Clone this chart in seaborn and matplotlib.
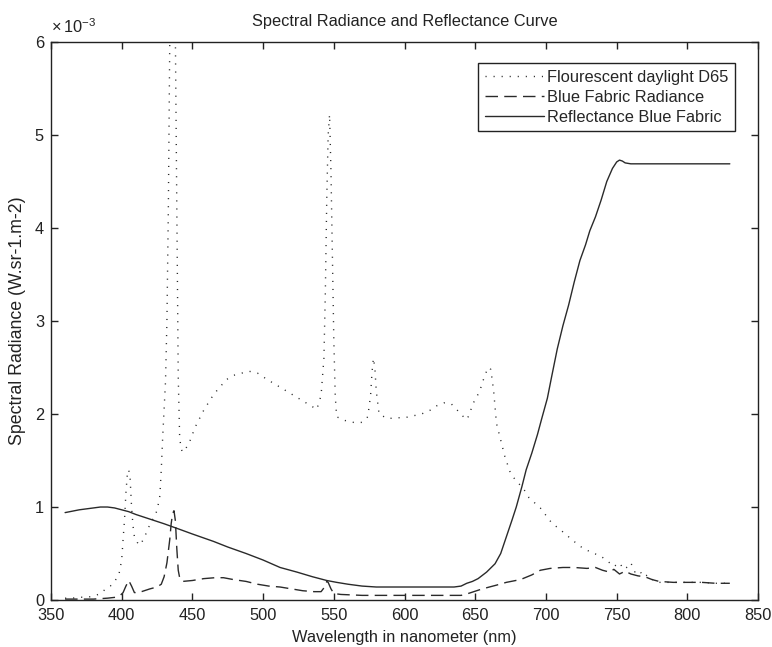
import numpy as np
import pandas as pd
import matplotlib
matplotlib.use("Agg")
import matplotlib.pyplot as plt
from matplotlib.ticker import FuncFormatter
import seaborn as sns

# Fluorescent daylight D65 (spectral radiance, x 1e-3)
d65_nm = [360, 365, 370, 375, 380, 385, 388, 392, 395, 398, 400, 401, 402, 403, 404, 405,
          406, 407, 408, 409, 411, 413, 416, 419, 422, 425, 427, 428, 429, 430, 431, 432,
          433, 434, 435, 436, 437, 438, 439, 440, 441, 442, 443, 445, 448, 452, 458, 465,
          474, 480, 490, 496, 503, 514, 526, 538, 541, 543, 544, 545, 546, 547, 548, 549,
          550, 551, 552, 558, 564, 570, 574, 576, 577, 578, 579, 580, 582, 588, 594, 600,
          612, 618, 623, 628, 633, 638, 641, 644, 646, 648, 653, 656, 659, 661, 663, 665,
          668, 671, 675, 679, 684, 688, 696, 704, 713, 719, 725, 731, 739, 745, 748, 752,
          755, 758, 760, 763, 766, 769, 772, 776, 780, 790, 800, 810, 820, 830]
d65_val = [0.02, 0.02, 0.03, 0.03, 0.04, 0.07, 0.11, 0.15, 0.20, 0.27, 0.43, 0.65, 0.86, 1.15, 1.35, 1.40,
           1.30, 1.00, 0.80, 0.68, 0.62, 0.59, 0.67, 0.78, 0.87, 0.96, 1.12, 1.40, 1.75, 2.05, 2.35, 3.00,
           4.20, 6.00, 6.70, 7.00, 6.70, 6.00, 4.20, 2.40, 1.75, 1.63, 1.59, 1.62, 1.70, 1.86, 2.04, 2.21,
           2.37, 2.42, 2.46, 2.44, 2.37, 2.27, 2.16, 2.05, 2.20, 2.60, 3.30, 4.30, 5.00, 5.22, 4.60, 3.70,
           2.80, 2.20, 1.97, 1.93, 1.91, 1.91, 1.97, 2.20, 2.45, 2.60, 2.50, 2.25, 2.00, 1.95, 1.96, 1.96,
           2.00, 2.04, 2.09, 2.12, 2.11, 2.03, 1.98, 1.94, 2.00, 2.10, 2.24, 2.38, 2.50, 2.48, 2.25, 1.90,
           1.72, 1.54, 1.36, 1.28, 1.20, 1.10, 0.99, 0.83, 0.72, 0.64, 0.57, 0.52, 0.47, 0.40, 0.36, 0.40,
           0.33, 0.36, 0.40, 0.30, 0.32, 0.25, 0.27, 0.21, 0.19, 0.19, 0.19, 0.19, 0.18, 0.18]

# Blue fabric radiance (x 1e-3)
fab_nm = [360, 370, 380, 390, 396, 399, 401, 403, 405, 407, 409, 412, 416, 420, 425, 428,
          430, 432, 434, 435, 436, 437, 438, 439, 440, 441, 443, 450, 458, 466, 472, 479,
          488, 496, 504, 512, 520, 528, 536, 541, 543, 545, 546, 548, 550, 555, 570, 580,
          600, 620, 640, 645, 649, 654, 660, 665, 672, 682, 690, 696, 703, 712, 720, 729,
          735, 740, 745, 748, 752, 756, 760, 765, 770, 775, 780, 790, 800, 810, 820, 830]
fab_val = [0.01, 0.01, 0.01, 0.02, 0.03, 0.05, 0.08, 0.15, 0.21, 0.15, 0.08, 0.08, 0.10, 0.12, 0.14, 0.17,
           0.25, 0.40, 0.65, 0.82, 0.93, 0.96, 0.85, 0.55, 0.32, 0.24, 0.20, 0.21, 0.23, 0.24, 0.24, 0.22,
           0.20, 0.17, 0.15, 0.14, 0.12, 0.10, 0.09, 0.09, 0.13, 0.20, 0.19, 0.12, 0.07, 0.06, 0.05, 0.05,
           0.05, 0.05, 0.05, 0.07, 0.09, 0.115, 0.14, 0.16, 0.19, 0.22, 0.27, 0.32, 0.34, 0.35, 0.35, 0.34,
           0.35, 0.32, 0.30, 0.33, 0.28, 0.31, 0.28, 0.26, 0.25, 0.22, 0.20, 0.19, 0.19, 0.19, 0.18, 0.18]

# Reflectance of the blue fabric (same axis, x 1e-3)
refl_nm = [360, 370, 380, 385, 390, 395, 400, 405, 410, 420, 430, 441, 450, 465, 475, 488,
           500, 512, 524, 535, 545, 552, 560, 570, 580, 600, 620, 635, 640, 644, 648, 652,
           658, 664, 668, 672, 676, 679, 683, 686, 690, 694, 697, 701, 704, 708, 712, 716,
           720, 724, 728, 731, 735, 739, 743, 747, 750, 752, 754, 756, 760, 780, 800, 830]
refl_val = [0.94, 0.97, 0.99, 1.00, 1.00, 0.99, 0.97, 0.95, 0.92, 0.87, 0.82, 0.76, 0.71, 0.63, 0.57, 0.50,
            0.43, 0.35, 0.30, 0.25, 0.21, 0.19, 0.17, 0.15, 0.14, 0.14, 0.14, 0.14, 0.15, 0.18, 0.20, 0.23,
            0.30, 0.39, 0.50, 0.68, 0.86, 1.00, 1.22, 1.40, 1.58, 1.78, 1.95, 2.17, 2.40, 2.70, 2.95, 3.17,
            3.42, 3.65, 3.82, 3.97, 4.12, 4.30, 4.50, 4.64, 4.71, 4.73, 4.72, 4.70, 4.69, 4.69, 4.69, 4.69]

series_names = ["Flourescent daylight D65", "Blue Fabric Radiance", "Reflectance Blue Fabric"]
x_ticks = [350, 400, 450, 500, 550, 600, 650, 700, 750, 800, 850]
y_ticks = [0, 1, 2, 3, 4, 5, 6]

frames = []
for name, nm, val in zip(series_names, [d65_nm, fab_nm, refl_nm], [d65_val, fab_val, refl_val]):
    frames.append(pd.DataFrame({"nm": nm, "radiance": np.array(val) * 1e-3, "series": name}))
df = pd.concat(frames, ignore_index=True)

sns.set_theme(style="ticks")
plt.rcParams["font.family"] = ["Liberation Sans", "DejaVu Sans"]
plt.rcParams["mathtext.default"] = "regular"
FS = 11.8
ink = "#222222"

fig = plt.figure(figsize=(7.72, 6.47), dpi=100)
ax = fig.add_axes([0.066, 0.0726, 0.916, 0.8625])

line_color = "#2a2a2a"
sns.lineplot(data=df, x="nm", y="radiance", style="series", style_order=series_names,
             dashes={series_names[0]: (0.8, 5.0),
                     series_names[1]: (9, 4.5),
                     series_names[2]: ""},
             color=line_color, linewidth=1.0, estimator=None, sort=True, ax=ax)

ax.set_xlim(350, 850)
ax.set_ylim(0, 6e-3)
ax.set_xticks(x_ticks)
ax.set_yticks([v * 1e-3 for v in y_ticks])
ax.yaxis.set_major_formatter(FuncFormatter(lambda v, _: f"{v * 1e3:g}"))

for side in ["top", "right", "bottom", "left"]:
    ax.spines[side].set_visible(True)
    ax.spines[side].set_color(ink)
    ax.spines[side].set_linewidth(1.0)
ax.tick_params(direction="in", length=5, width=1, top=True, right=True,
               colors=ink, labelsize=FS)
ax.tick_params(axis="x", pad=6)
ax.tick_params(axis="y", pad=5)

# exponent shared by the y tick values
ax.text(0.0, 1.027, r"$\times\,10^{-3}$", transform=ax.transAxes, ha="left", va="center",
        fontsize=FS, color=ink)

ax.set_title("Spectral Radiance and Reflectance Curve", fontsize=FS, pad=11.5, color=ink)
ax.set_xlabel("Wavelength in nanometer (nm)", fontsize=FS, color=ink, labelpad=5)
ax.set_ylabel("Spectral Radiance (W.sr-1.m-2)", fontsize=12.8, color=ink, labelpad=6)

handles, labels = ax.get_legend_handles_labels()
leg = ax.legend(handles, labels, loc="upper right", bbox_to_anchor=(0.967, 0.962),
                frameon=True, fancybox=False, edgecolor=ink, framealpha=1,
                fontsize=FS, handlelength=3.6, handletextpad=0.2, borderpad=0.4,
                labelspacing=0.3, borderaxespad=0)
leg.get_frame().set_linewidth(1.0)

fig.savefig("out.png", dpi=100)
